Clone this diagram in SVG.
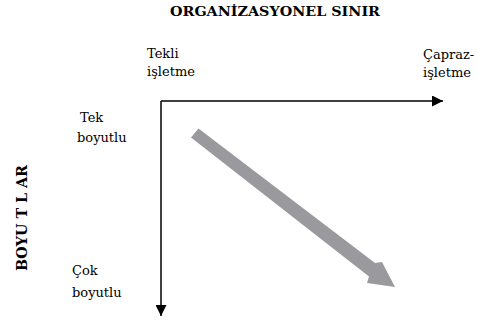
<svg xmlns="http://www.w3.org/2000/svg" width="477" height="323" viewBox="0 0 477 323">
<defs>
<style>
.t{font-family:"DejaVu Serif",serif;font-size:13px;fill:#000}
.b{font-family:"DejaVu Serif",serif;font-size:12px;font-weight:bold;fill:#000}
.ax{stroke:#000;stroke-width:1.5;fill:none}
</style>
<marker id="ah" viewBox="0 0 10 10" refX="10" refY="5" markerWidth="11" markerHeight="11" markerUnits="userSpaceOnUse" orient="auto">
<path d="M0,0 L10,5 L0,10 Z" fill="#000"/>
</marker>
</defs>
<rect width="477" height="323" fill="#fff"/>
<text class="b" x="170" y="16" textLength="210" lengthAdjust="spacingAndGlyphs">ORGANİZASYONEL SINIR</text>
<text class="b" style="font-size:14px" transform="translate(27,271) rotate(-90)" textLength="106" lengthAdjust="spacingAndGlyphs">BOYU T L AR</text>
<g id="connectors">
<path class="ax" d="M161,101 L443,101" marker-end="url(#ah)"/>
<path class="ax" d="M161,101 L161,316" marker-end="url(#ah)"/>
</g>
<g id="trend">
<path d="M191,137.5 L198.5,128.5 L375,263 L382,262 L395,287 L367,283 L369,276.5 Z" fill="#9a9a9e"/>
</g>
<g id="tekli"><text class="t" x="147" y="58">Tekli</text><text class="t" x="147" y="76">işletme</text></g>
<g id="capraz"><text class="t" x="423" y="59">Çapraz-</text><text class="t" x="423" y="77">işletme</text></g>
<g id="tek"><text class="t" x="80" y="122">Tek</text><text class="t" x="77" y="142">boyutlu</text></g>
<g id="cok"><text class="t" x="72" y="275">Çok</text><text class="t" x="72" y="297">boyutlu</text></g>
</svg>
